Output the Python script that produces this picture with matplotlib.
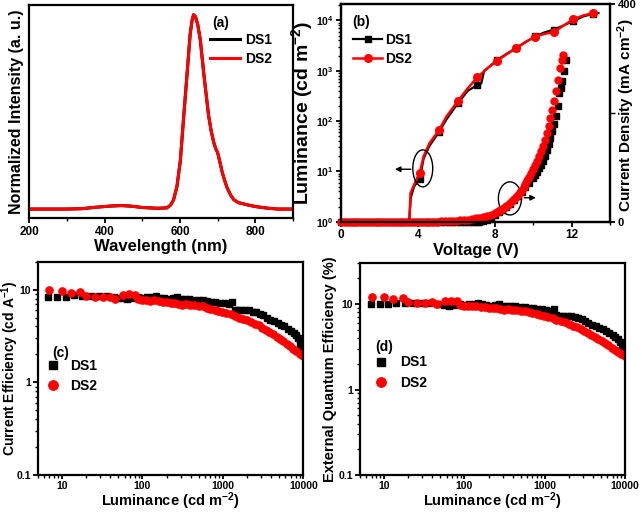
import numpy as np
import matplotlib
matplotlib.use('Agg')
import matplotlib.pyplot as plt
from matplotlib.patches import Ellipse
from matplotlib.ticker import FixedLocator, FixedFormatter, MultipleLocator, LogLocator, NullFormatter

# ---------------- data ----------------
# (a) EL spectra
wavelength = [200, 300, 340, 380, 420, 445, 470, 500, 540, 565, 575, 583, 592, 601, 610, 619,
              627, 632, 636, 641, 647, 654, 663, 670, 676, 683, 690, 695, 700, 705, 712, 718,
              725, 735, 743, 755, 778, 800, 830, 860, 900]
ds1_intensity = [0, 0, 0.002, 0.01, 0.016, 0.018, 0.015, 0.008, 0.004, 0.006, 0.02, 0.048, 0.117,
                 0.25, 0.48, 0.70, 0.90, 0.97, 1.0, 0.99, 0.95, 0.87, 0.70, 0.58, 0.48, 0.40, 0.34,
                 0.31, 0.29, 0.25, 0.19, 0.15, 0.11, 0.07, 0.048, 0.033, 0.022, 0.013, 0.005, 0, 0]
ds2_intensity = [0, 0, 0.002, 0.01, 0.016, 0.018, 0.015, 0.008, 0.004, 0.006, 0.02, 0.048, 0.117,
                 0.25, 0.48, 0.70, 0.90, 0.97, 1.0, 0.99, 0.95, 0.87, 0.70, 0.58, 0.48, 0.40, 0.34,
                 0.31, 0.29, 0.25, 0.19, 0.15, 0.11, 0.07, 0.048, 0.033, 0.022, 0.013, 0.005, 0, 0]

# (b) luminance - voltage
ds1_volt_L = [0.0, 1.0, 2.0, 3.0, 3.55, 3.63, 3.8, 4.1, 4.3, 4.6, 5.1, 5.5, 6.1, 6.6, 7.1, 7.3, 7.45,
              7.6, 8.1, 8.6, 9.1, 9.6, 10.1, 10.6, 11.1, 11.6, 12.1, 12.6, 13.1, 13.4]
ds1_lum = [1, 1, 1, 1, 1, 3.0, 5.0, 7.2, 18, 32, 61, 110, 230, 400, 520, 560, 1000, 1100, 1600,
           2150, 2800, 3700, 4800, 5800, 6600, 8000, 9800, 12000, 13400, 14000]
ds1_mark_idx = [7, 10, 12, 14, 18, 20, 22, 24, 26, 28]
ds2_volt_L = [0.0, 1.0, 2.0, 3.0, 3.55, 3.62, 3.8, 4.1, 4.3, 4.6, 5.1, 5.5, 6.1, 6.6, 7.1, 7.6, 8.1,
              8.6, 9.1, 9.6, 10.1, 10.6, 11.1, 11.6, 12.1, 12.6, 13.1]
ds2_lum = [1, 1, 1, 1, 1, 3.7, 5.4, 9.5, 20, 36, 66, 125, 255, 450, 740, 1100, 1560, 2100, 2780,
           3700, 4760, 5400, 5900, 8000, 10600, 12500, 14000]
ds2_mark_idx = [7, 10, 12, 14, 16, 18, 20, 22, 24, 26]

# (b) current density - voltage
ds1_volt_J = [0.0, 0.2, 0.4, 0.6, 0.8, 1.0, 1.2, 1.4, 1.6, 1.8, 2.0, 2.2, 2.4, 2.6, 2.8, 3.0, 3.2,
              3.4, 3.6, 3.8, 4.0, 4.2, 4.4, 4.6, 4.8, 5.0, 5.2, 5.4, 5.6, 5.8, 6.0, 6.2, 6.4, 6.6,
              6.8, 7.0, 7.2, 7.4, 7.6, 7.8, 8.0, 8.2, 8.4, 8.6, 8.8, 9.0, 9.2, 9.4, 9.6, 9.8, 10.0,
              10.1, 10.2, 10.3, 10.4, 10.5, 10.6, 10.7, 10.8, 10.9, 11.0, 11.1, 11.2, 11.3, 11.35,
              11.45, 11.52, 11.6, 11.7]
ds1_J = [0, 0, 0, 0, 0, 0, 0, 0, 0, 0, 0, 0, 0, 0, 0, 0, 0, 0, 0, 0, 0, 0, 0, 0, 0, 0, 0, 0, 0, 0,
         0, 0, 0, 0, 0, 0, 0, 0.5, 3, 7, 12, 17, 22, 27, 33, 40, 47, 55, 64, 72, 81, 86, 92, 98,
         105, 112, 121, 131, 142, 153, 166, 179, 195, 212, 236, 246, 258, 276, 298]
ds2_volt_J = [0.0, 0.2, 0.4, 0.6, 0.8, 1.0, 1.2, 1.4, 1.6, 1.8, 2.0, 2.2, 2.4, 2.6, 2.8, 3.0, 3.2,
              3.4, 3.6, 3.8, 4.0, 4.2, 4.4, 4.6, 4.8, 5.0, 5.2, 5.4, 5.6, 5.8, 6.0, 6.2, 6.4, 6.6,
              6.8, 7.0, 7.2, 7.4, 7.6, 7.8, 8.0, 8.1, 8.2, 8.3, 8.4, 8.5, 8.6, 8.7, 8.8, 8.9, 9.0,
              9.1, 9.2, 9.3, 9.4, 9.5, 9.6, 9.7, 9.8, 9.9, 10.0, 10.1, 10.2, 10.3, 10.4, 10.5,
              10.6, 10.7, 10.8, 10.9, 11.0, 11.1, 11.2, 11.3, 11.4, 11.5, 11.55]
ds2_J = [0, 0, 0, 0, 0, 0, 0, 0, 0, 0, 0, 0, 0, 0, 0, 0, 0, 0, 0, 0, 0, 0, 0, 0, 0, 0.2, 0.4, 0.6,
         0.9, 1.3, 1.8, 2.4, 3.1, 3.9, 4.9, 6.0, 7.5, 9.0, 10.8, 12.8, 15.5, 17, 19, 21, 23, 25.5,
         28, 31, 34, 37.5, 41, 45, 49, 54, 59, 64, 70, 76, 82, 89, 96, 104, 112, 121, 130, 140,
         151, 163, 176, 190, 205, 222, 240, 260, 282, 298, 307]

# (c)/(d) efficiencies vs luminance
ds1_L = [6.8, 8.8, 11.2, 14.2, 18, 23, 29, 36, 45, 55, 64, 75, 88, 100, 115, 130, 146, 165, 185,
         210, 240, 270, 300, 340, 380, 430, 490, 560, 630, 720, 810, 920, 1050, 1200, 1300, 1400,
         1550, 1700, 1900, 2100, 2350, 2600, 2900, 3200, 3500, 3900, 4300, 4800, 5300, 5800,
         6400, 7000, 7600, 8200, 8700, 9100, 9500, 9900]
ds1_CE = [8.4, 8.4, 8.4, 8.7, 8.6, 8.6, 8.5, 8.6, 8.3, 8.2, 8.0, 8.2, 8.3, 8.2, 8.3, 8.4, 8.6, 8.2,
          8.1, 8.0, 8.1, 8.4, 8.0, 7.9, 8.0, 7.8, 7.7, 7.7, 7.5, 7.4, 7.3, 7.2, 7.1, 7.0, 7.3, 6.1,
          6.0, 6.0, 6.0, 6.0, 5.8, 5.7, 5.5, 5.3, 5.0, 4.7, 4.6, 4.4, 4.2, 4.0, 3.8, 3.6, 3.4, 3.2,
          3.0, 2.6, 2.4, 2.3]
ds1_EQE = [10.1, 10.1, 10.1, 10.4, 10.3, 10.3, 10.2, 10.3, 10.0, 9.8, 9.6, 9.8, 10.0, 9.8, 10.0,
           10.1, 10.4, 9.9, 9.7, 9.6, 9.7, 10.1, 9.6, 9.5, 9.6, 9.4, 9.3, 9.2, 9.0, 8.9, 8.8, 8.7,
           8.5, 8.4, 8.7, 7.4, 7.2, 7.2, 7.2, 7.2, 7.0, 6.8, 6.6, 6.4, 6.0, 5.7, 5.5, 5.3, 5.1,
           4.8, 4.6, 4.3, 4.1, 3.9, 3.6, 3.2, 2.9, 2.8]
ds2_L = [7.0, 10, 13, 17, 20, 26, 32, 40, 46, 58, 68, 80, 88, 100, 112, 125, 140, 160, 180, 200,
         225, 250, 280, 310, 350, 390, 440, 500, 560, 630, 700, 790, 880, 990, 1100, 1250, 1400,
         1600, 1800, 2000, 2250, 2500, 2800, 3100, 3450, 3800, 4200, 4650, 5100, 5600, 6200,
         6800, 7500, 8200, 9000, 9900]
ds2_CE = [9.8, 9.7, 9.2, 9.5, 8.5, 8.4, 8.3, 8.4, 8.0, 8.8, 8.9, 8.8, 7.9, 7.8, 7.7, 7.6, 7.8,
          7.5, 7.4, 7.3, 7.2, 7.1, 7.0, 6.9, 6.95, 6.8, 6.8, 6.7, 6.6, 6.4, 6.2, 6.1, 5.9, 5.75,
          5.6, 5.4, 5.2, 5.0, 4.85, 4.7, 4.5, 4.3, 4.1, 3.9, 3.7, 3.5, 3.3, 3.1, 2.95, 2.8, 2.6,
          2.45, 2.3, 2.15, 2.0, 1.9]
ds2_EQE = [12.2, 12.0, 11.4, 11.7, 10.5, 10.4, 10.3, 10.7, 9.9, 11.0, 11.0, 11.0, 9.8, 9.6, 9.5,
           9.4, 9.6, 9.3, 9.2, 9.1, 9.0, 8.9, 8.8, 8.6, 8.7, 8.5, 8.5, 8.4, 8.2, 8.0, 7.8, 7.6,
           7.4, 7.2, 7.0, 6.8, 6.5, 6.3, 6.1, 5.9, 5.6, 5.4, 5.1, 4.9, 4.6, 4.4, 4.1, 3.9, 3.7,
           3.5, 3.3, 3.1, 2.9, 2.75, 2.6, 2.45]

# tick labels
wl_ticks = [200, 400, 600, 800]
volt_ticks = [0, 4, 8, 12]
lum_ticks_b = [1, 10, 100, 1000, 10000]
lum_ticklabels_b = [r'$\mathbf{10^{0}}$', r'$\mathbf{10^{1}}$', r'$\mathbf{10^{2}}$',
                    r'$\mathbf{10^{3}}$', r'$\mathbf{10^{4}}$']
J_ticks = [0, 400]
L_ticks = [10, 100, 1000, 10000]
L_ticklabels = ['10', '100', '1000', '10000']
eff_ticks = [0.1, 1, 10]
eff_ticklabels = ['0.1', '1', '10']

# ---------------- style ----------------
plt.rcParams.update({
    'font.family': ['Liberation Sans', 'DejaVu Sans'],
    'font.weight': 'bold',
    'axes.labelweight': 'bold',
    'mathtext.fontset': 'custom',
    'mathtext.rm': 'Liberation Sans:bold',
    'mathtext.bf': 'Liberation Sans:bold',
    'mathtext.it': 'Liberation Sans:bold',
    'mathtext.default': 'bf',
    'axes.linewidth': 1.6,
    'xtick.direction': 'out',
    'ytick.direction': 'out',
    'xtick.major.size': 3.5,
    'ytick.major.size': 3.5,
    'xtick.minor.size': 2,
    'ytick.minor.size': 2,
    'xtick.major.width': 1.3,
    'ytick.major.width': 1.3,
    'xtick.minor.width': 1.0,
    'ytick.minor.width': 1.0,
    'xtick.labelsize': 8.5,
    'ytick.labelsize': 8.5,
    'xtick.major.pad': 2,
    'ytick.major.pad': 2,
})

W, H = 642, 513
fig = plt.figure(figsize=(W / 100, H / 100), dpi=100)


def rect(l, r, t, b):
    return [l / W, 1 - b / H, (r - l) / W, (b - t) / H]


LEG_FS = 10

# ---------------- (a) ----------------
axa = fig.add_axes(rect(29.3, 293, 5, 218))
axa.plot(wavelength, ds1_intensity, color='black', lw=2.2, label='DS1')
axa.plot(wavelength, ds2_intensity, color='red', lw=2.2, label='DS2')
axa.set_xlim(200, 900)
axa.set_ylim(-0.046, 1.05)
axa.xaxis.set_major_locator(FixedLocator(wl_ticks))
axa.xaxis.set_minor_locator(MultipleLocator(100))
axa.set_yticks([])
axa.set_xlabel('Wavelength (nm)', fontsize=12, labelpad=1)
axa.set_ylabel('Normalized Intensity (a. u.)', fontsize=11.5)
axa.yaxis.set_label_coords(-0.02, 0.5)
axa.text(0.693, 0.915, '(a)', transform=axa.transAxes, fontsize=LEG_FS, va='center', ha='left')
axa.legend(loc='upper left', bbox_to_anchor=(0.685, 0.87), frameon=False, fontsize=LEG_FS,
           handlelength=2.15, handletextpad=0.35, labelspacing=0.4, borderpad=0, borderaxespad=0)

# ---------------- (b) ----------------
axb = fig.add_axes(rect(341, 610, 4, 221.7))
axb.plot(ds1_volt_L, ds1_lum, color='black', lw=1.6, marker='s', ms=4.5,
         markevery=ds1_mark_idx, label='DS1')
axb.plot(ds2_volt_L, ds2_lum, color='red', lw=1.8, marker='o', ms=5.5,
         markevery=ds2_mark_idx, label='DS2')
axb.set_yscale('log')
axb.set_xlim(0, 14)
axb.set_ylim(1, 2.12e4)
axb.xaxis.set_major_locator(FixedLocator(volt_ticks))
axb.xaxis.set_minor_locator(MultipleLocator(2))
axb.yaxis.set_major_locator(FixedLocator(lum_ticks_b))
axb.yaxis.set_major_formatter(FixedFormatter(lum_ticklabels_b))
axb.yaxis.set_minor_locator(LogLocator(base=10, subs=np.arange(2, 10)))
axb.yaxis.set_minor_formatter(NullFormatter())
axb.tick_params(axis='y', labelsize=7.5)
axb.set_xlabel('Voltage (V)', fontsize=12, labelpad=1)
axb.set_ylabel(r'Luminance (cd m$^{-2}$)', fontsize=14)
axb.yaxis.set_label_coords(-0.095, 0.5)
axb.text(0.041, 0.917, '(b)', transform=axb.transAxes, fontsize=LEG_FS, va='center', ha='left')
axb.legend(loc='upper left', bbox_to_anchor=(0.045, 0.868), frameon=False, fontsize=LEG_FS,
           handlelength=2.1, handletextpad=0.2, labelspacing=0.4, borderpad=0, borderaxespad=0)

axb2 = axb.twinx()
axb2.plot(ds1_volt_J, ds1_J, ls='none', marker='s', ms=4.2, color='black', clip_on=False)
axb2.plot(ds2_volt_J, ds2_J, ls='none', marker='o', ms=5, color='red', clip_on=False)
axb2.set_ylim(0, 400)
axb2.yaxis.set_major_locator(FixedLocator(J_ticks))
axb2.yaxis.set_minor_locator(MultipleLocator(200))
axb2.tick_params(axis='y', which='minor', length=3.5)
axb2.tick_params(axis='y', labelsize=8)
axb2.set_ylabel(r'Current Density (mA cm$^{-2}$)', fontsize=11)
axb2.yaxis.set_label_coords(1.02, 0.49)

# ellipses and arrows
axb2.add_patch(Ellipse((0.304, 0.245), 0.074, 0.17, transform=axb2.transAxes,
                       fill=False, ec='black', lw=1.0))
axb2.annotate('', xy=(0.19, 0.241), xytext=(0.27, 0.241), xycoords='axes fraction',
              textcoords='axes fraction',
              arrowprops=dict(arrowstyle='-|>', color='black', lw=1.0, mutation_scale=8))
axb2.add_patch(Ellipse((0.628, 0.107), 0.086, 0.152, transform=axb2.transAxes,
                       fill=False, ec='black', lw=1.0))
axb2.annotate('', xy=(0.735, 0.11), xytext=(0.671, 0.11), xycoords='axes fraction',
              textcoords='axes fraction',
              arrowprops=dict(arrowstyle='-|>', color='black', lw=1.0, mutation_scale=8))


# ---------------- (c) & (d) ----------------
def eff_panel(r, y1, y2, ylim_top, ylabel, ylab_fs, ylab_x, tag, tag_xy, leg_xy, textpad):
    ax = fig.add_axes(r)
    ax.plot(ds1_L, y1, ls='none', marker='s', ms=4.3, color='black', label='DS1')
    ax.plot(ds2_L, y2, ls='none', marker='o', ms=5.2, color='red', label='DS2')
    ax.set_xscale('log')
    ax.set_yscale('log')
    ax.set_xlim(5, 10000)
    ax.set_ylim(0.1, ylim_top)
    ax.xaxis.set_major_locator(FixedLocator(L_ticks))
    ax.xaxis.set_major_formatter(FixedFormatter(L_ticklabels))
    ax.xaxis.set_minor_locator(LogLocator(base=10, subs=np.arange(2, 10)))
    ax.xaxis.set_minor_formatter(NullFormatter())
    ax.yaxis.set_major_locator(FixedLocator(eff_ticks))
    ax.yaxis.set_major_formatter(FixedFormatter(eff_ticklabels))
    ax.yaxis.set_minor_locator(LogLocator(base=10, subs=np.arange(2, 10)))
    ax.yaxis.set_minor_formatter(NullFormatter())
    ax.tick_params(axis='x', which='major', length=3, labelsize=7.5, pad=1)
    ax.tick_params(axis='y', which='major', labelsize=7.5, pad=1.5)
    ax.set_xlabel(r'Luminance (cd m$^{-2}$)', fontsize=10.5, va='bottom')
    bottom_px = (1 - r[1]) * H
    height_px = r[3] * H
    ax.xaxis.set_label_coords(0.5, -(512.5 - bottom_px) / height_px)
    ax.set_ylabel(ylabel, fontsize=ylab_fs)
    ax.yaxis.set_label_coords(ylab_x, 0.5)
    ax.text(tag_xy[0], tag_xy[1], tag, transform=ax.transAxes, fontsize=LEG_FS,
            va='center', ha='left')
    ax.legend(loc='upper left', bbox_to_anchor=leg_xy, frameon=False, fontsize=LEG_FS,
              handlelength=0.8, handletextpad=textpad, labelspacing=0.45, borderpad=0,
              borderaxespad=0, markerscale=1.3)
    return ax


eff_panel(rect(37.7, 303.3, 261.7, 475), ds1_CE, ds2_CE, 20, r'Current Efficiency (cd A$^{-1}$)',
          10, -0.062, '(c)', (0.054, 0.571), (0.038, 0.545), 0.84)
eff_panel(rect(360, 625, 263.3, 475), ds1_EQE, ds2_EQE, 30, 'External Quantum Efficiency (%)',
          10.5, -0.088, '(d)', (0.057, 0.603), (0.059, 0.565), 0.97)

fig.savefig('out.png', dpi=100)
